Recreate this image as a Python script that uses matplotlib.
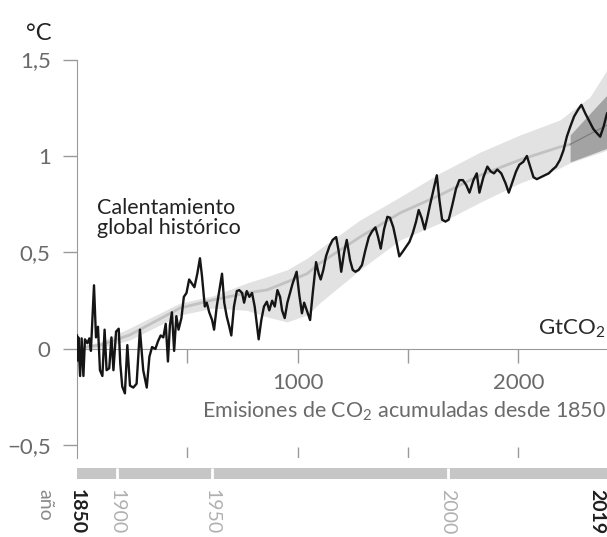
import matplotlib.pyplot as plt
import numpy as np

plt.rcParams['font.family'] = ['Lato', 'DejaVu Sans']
plt.rcParams['mathtext.fontset'] = 'custom'
plt.rcParams['mathtext.rm'] = 'Lato'
plt.rcParams['mathtext.it'] = 'Lato'

#######################
# data
#######################
# cumulative CO2 emissions since 1850 (GtCO2) and warming (degC), one point per year
emis = [0, 2, 6, 14, 21, 29, 36, 47, 56, 63, 77, 86, 95, 104, 115, 125, 134, 146,
        156, 165, 177, 189, 196, 205, 217, 228, 240, 255, 270, 285, 300, 316, 328,
        340, 355, 367, 379, 391, 402, 412, 421, 430, 440, 450, 460, 473, 484, 496,
        508, 520, 532, 545, 557, 566, 579, 588, 599, 612, 621, 633, 645, 657, 667,
        678, 690, 699, 711, 724, 735, 748, 757, 769, 781, 793, 805, 814, 823, 835,
        847, 860, 871, 884, 896, 908, 920, 929, 941, 953, 965, 977, 995, 1007, 1019,
        1029, 1041, 1056, 1068, 1083, 1095, 1104, 1116, 1128, 1143, 1158, 1174, 1185,
        1197, 1210, 1222, 1237, 1249, 1261, 1276, 1291, 1306, 1322, 1337, 1352, 1364,
        1376, 1391, 1406, 1418, 1433, 1448, 1460, 1476, 1491, 1506, 1521, 1536, 1548,
        1561, 1575, 1587, 1599, 1612, 1630, 1642, 1654, 1669, 1684, 1699, 1717, 1732,
        1748, 1763, 1778, 1796, 1811, 1823, 1841, 1859, 1874, 1889, 1904, 1922, 1941,
        1956, 1971, 1989, 2004, 2022, 2038, 2053, 2068, 2083, 2101, 2119, 2137, 2155,
        2170, 2188, 2204, 2219, 2234, 2252, 2270, 2285, 2303, 2321, 2339, 2354, 2370,
        2385, 2401]
temp = [0.07, -0.06, 0.06, -0.14, 0.055, -0.14, 0.05, 0.03, 0.055, -0.01, 0.33, 0.06,
        0.115, -0.11, -0.14, 0.1, -0.11, -0.1, 0.06, -0.11, 0.09, 0.105, -0.075, -0.195,
        -0.23, 0.02, -0.19, -0.2, -0.18, 0.1, -0.11, -0.2, -0.04, 0.01, 0.0, 0.04, 0.07,
        0.06, 0.13, -0.065, 0.125, 0.19, -0.01, 0.17, 0.1, 0.16, 0.27, 0.29, 0.36, 0.34,
        0.32, 0.39, 0.47, 0.38, 0.22, 0.24, 0.19, 0.15, 0.1, 0.22, 0.305, 0.39, 0.24,
        0.17, 0.115, 0.07, 0.22, 0.3, 0.305, 0.29, 0.24, 0.3, 0.27, 0.29, 0.22, 0.135,
        0.05, 0.15, 0.22, 0.245, 0.2, 0.25, 0.22, 0.305, 0.27, 0.2, 0.16, 0.24, 0.29,
        0.34, 0.40, 0.28, 0.185, 0.24, 0.2, 0.15, 0.29, 0.45, 0.39, 0.36, 0.41, 0.48,
        0.53, 0.565, 0.58, 0.51, 0.4, 0.5, 0.565, 0.46, 0.41, 0.4, 0.41, 0.435, 0.51,
        0.58, 0.61, 0.63, 0.58, 0.52, 0.62, 0.685, 0.68, 0.63, 0.55, 0.48, 0.505, 0.53,
        0.555, 0.6, 0.66, 0.72, 0.68, 0.62, 0.68, 0.745, 0.81, 0.9, 0.77, 0.67, 0.66,
        0.67, 0.74, 0.83, 0.875, 0.875, 0.85, 0.81, 0.875, 0.91, 0.81, 0.89, 0.945,
        0.92, 0.91, 0.93, 0.91, 0.86, 0.81, 0.86, 0.92, 0.955, 0.97, 1.0, 0.945, 0.89,
        0.88, 0.89, 0.9, 0.91, 0.93, 0.945, 0.98, 1.03, 1.1, 1.15, 1.205, 1.24, 1.265,
        1.22, 1.18, 1.14, 1.12, 1.1, 1.15, 1.22]

# model range (light band) and its central estimate
band_x = [40, 104, 240, 467, 616, 770, 861, 951, 1042, 1101, 1282, 1464, 1645, 1826,
          2007, 2188, 2234, 2324, 2401]
band_lo = [0.0, 0.005, 0.047, 0.176, 0.212, 0.2, 0.166, 0.14, 0.176, 0.24, 0.41, 0.565,
           0.653, 0.76, 0.86, 0.938, 0.965, 1.0, 1.03]
band_mid = [0.01, 0.02, 0.073, 0.212, 0.254, 0.29, 0.306, 0.347, 0.39, 0.445, 0.58,
            0.705, 0.798, 0.9, 0.98, 1.047, 1.06, 1.11, 1.16]
band_hi = [0.02, 0.036, 0.109, 0.238, 0.275, 0.342, 0.375, 0.41, 0.47, 0.52, 0.668,
           0.788, 0.912, 1.02, 1.109, 1.187, 1.228, 1.306, 1.446]

# dark wedge at the end
wedge_x = [2234, 2401]
wedge_lo = [0.969, 1.04]
wedge_hi = [1.109, 1.316]

# year strip
years = ['1850', '1900', '1950', '2000', '2019']
year_emis = [0, 181, 612, 1681, 2356]
year_bold = [True, False, False, False, True]

emis_ticks = [500, 1000, 1500, 2000]
emis_labels = ['', '1000', '', '2000']
y_ticks = [-0.5, 0, 0.5, 1, 1.5]
y_labels = ['\u22120,5', '0', '0,5', '1', '1,5']

grey = '#9a9a9a'
txt_grey = '#6a6a6a'

fig = plt.figure(figsize=(6.07, 5.37), dpi=100)
ax = fig.add_axes([77/607, (537-458)/537, 530/607, (458-59.5)/537])
ax.set_xlim(0, 2401)
ax.set_ylim(-0.565, 1.5)

ax.fill_between(band_x, band_lo, band_hi, color='#e2e2e2', lw=0, zorder=1)
ax.plot(band_x, band_mid, color='#c2c2c2', lw=2, zorder=2)
ax.fill_between(wedge_x, wedge_lo, wedge_hi, color='#a3a3a3', lw=0, zorder=3)
ax.plot(wedge_x, [band_mid[-3], band_mid[-1]], color='#7a7a7a', lw=0.8, zorder=3)
ax.plot(emis, temp, color='#151515', lw=1.7, zorder=4)

for s in ['top', 'right']:
    ax.spines[s].set_visible(False)
ax.spines['bottom'].set_position(('data', 0))
ax.spines['bottom'].set_color(grey)
ax.spines['left'].set_color(grey)
ax.spines['left'].set_bounds(-0.565, 1.5)

ax.set_xticks(emis_ticks)
ax.set_xticklabels(emis_labels)
ax.set_yticks(y_ticks)
ax.set_yticklabels(y_labels)
ax.tick_params(axis='x', length=10, width=1, color=grey, pad=7, labelsize=16,
               labelcolor=txt_grey)
ax.tick_params(axis='y', length=10, width=1, color=grey, pad=9, labelsize=16,
               labelcolor=txt_grey)

# lower ticks above the year strip
ax.vlines(emis_ticks, -0.508, -0.565, color=grey, lw=1)

ax.text(91, 0.78, 'Calentamiento\nglobal histórico', fontsize=15.5, color='#222222',
        va='top', ha='left', linespacing=1.0)
ax.text(2392, 0.073, 'GtCO$_2$', fontsize=16, color='#2a2a2a', ha='right', va='baseline')
ax.text(2398, -0.357, 'Emisiones de CO$_2$ acumuladas desde 1850', fontsize=15.5,
        color=txt_grey, ha='right', va='baseline')
fig.text(26/607, 1-40/537, '°C', fontsize=17, color='#222222', va='baseline')

# year strip
ax2 = fig.add_axes([77/607, (537-479)/537, 530/607, 11/537])
ax2.set_xlim(0, 2401)
ax2.set_ylim(0, 1)
ax2.barh(0.5, 2401, height=1, left=0, color='#c6c6c6')
ax2.vlines(year_emis[1:4], 0, 1, color='white', lw=2)
for s in ax2.spines.values():
    s.set_visible(False)
ax2.set_yticks([])
ax2.set_xticks(year_emis)
ax2.set_xticklabels(years, rotation=-90, va='top', ha='center')
ax2.tick_params(axis='x', length=0, pad=7, labelsize=14)
for lab, b in zip(ax2.get_xticklabels(), year_bold):
    if b:
        lab.set_color('#1e1e1e')
        lab.set_fontweight('bold')
    else:
        lab.set_color('#b0b0b0')
fig.text(45/607, 1-489/537, 'año', rotation=-90, fontsize=14, color='#8a8a8a',
         ha='center', va='top')

fig.savefig('out.png', dpi=100)
